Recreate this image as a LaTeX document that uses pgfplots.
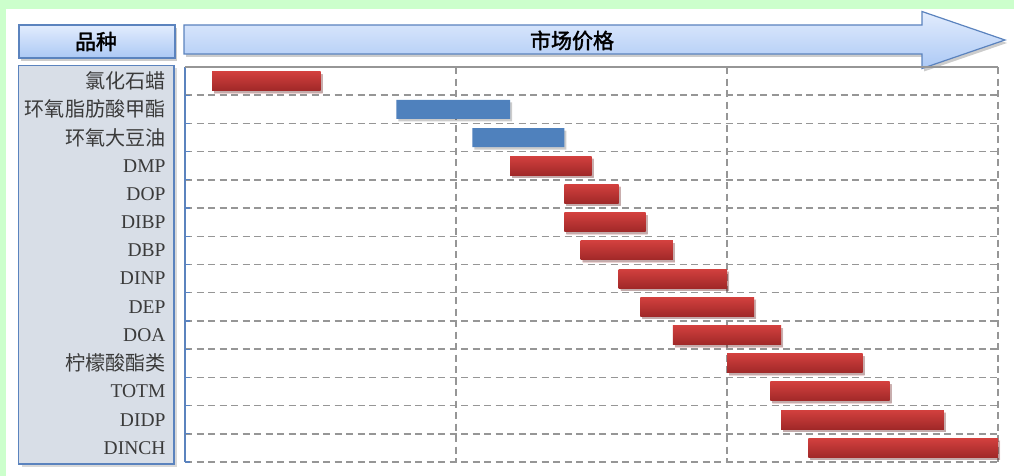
\documentclass[border=0pt]{standalone}
\usepackage{fontspec}
\setmainfont{Liberation Serif}
\newfontfamily\cjk[Scale=1.03]{Noto Sans CJK SC}
\newfontfamily\cjkb[FakeBold=2]{Noto Sans CJK SC}
\usepackage{pgfplots}
\usepackage{pgfplotstable}
\pgfplotsset{compat=1.18}
\usetikzlibrary{shadows}

\definecolor{bggreen}{RGB}{204,255,204}
\definecolor{panelfill}{RGB}{216,222,231}
\definecolor{panelline}{RGB}{91,131,190}
\definecolor{hdrtop}{RGB}{226,236,253}
\definecolor{hdrbot}{RGB}{172,201,245}
\definecolor{barblue}{RGB}{79,129,189}
\definecolor{redtop}{RGB}{210,64,62}
\definecolor{redbot}{RGB}{160,40,40}
\definecolor{gridgray}{RGB}{150,150,150}
\definecolor{labeltext}{RGB}{58,58,58}

% row  start  length   (x unit = one vertical grid interval)
\pgfplotstableread{
row start len
1  0.10 0.40
4  1.20 0.30
5  1.40 0.20
6  1.40 0.30
7  1.46 0.34
8  1.60 0.40
9  1.68 0.42
10 1.80 0.40
11 2.00 0.50
12 2.16 0.44
13 2.20 0.60
14 2.30 0.70
}\redbars
\pgfplotstableread{
row start len
2  0.78 0.42
3  1.06 0.34
}\bluebars

\pgfplotsset{
  base/.style={
    at={(185pt,-462pt)}, anchor=south west,
    scale only axis, width=813pt, height=395pt,
    xmin=0, xmax=3, ymin=0.5, ymax=14.5, y dir=reverse,
    xbar stacked, bar width=19pt, clip=false,
  },
  barshadow/.style={drop shadow={shadow xshift=2pt, shadow yshift=-2.5pt, fill=black, opacity=0.2}},
}

\begin{document}
\begin{tikzpicture}[x=1pt,y=1pt]
\useasboundingbox (0,0) rectangle (1014,-476);
\fill[bggreen] (0,0) rectangle (1014,-476);
\fill[white] (6,-9) rectangle (1014,-476);

% left category panel
\draw[panelline, line width=1.5pt, fill=panelfill,
      drop shadow={shadow xshift=3pt, shadow yshift=-3pt, fill=black, opacity=0.15}]
  (18.5,-65.5) rectangle (174,-464);

% header box
\draw[panelline, line width=1.5pt, top color=hdrtop, bottom color=hdrbot,
      drop shadow={shadow xshift=2pt, shadow yshift=-3pt, fill=black, opacity=0.2}]
  (19,-25) rectangle (175,-58);
\node[font=\cjkb\fontsize{21}{21}\selectfont, text=black] at (96,-41.5) {品种};

% arrow header
\draw[panelline, line width=1.2pt, top color=hdrtop, bottom color=hdrbot, line join=miter,
      drop shadow={shadow xshift=2pt, shadow yshift=-3pt, fill=black, opacity=0.2}]
  (184,-25) -- (922,-25) -- (922,-11.5) -- (1005,-40) -- (922,-68.5) -- (922,-54) -- (184,-54) -- cycle;
\node[font=\cjkb\fontsize{21}{21}\selectfont, text=black] at (572,-40.5) {市场价格};

\begin{axis}[base,
  xtick={1,2,3}, xticklabels={}, xmajorgrids,
  ytick={1,...,14},
  yticklabels={{\cjk 氯化石蜡},{\cjk 环氧脂肪酸甲酯},{\cjk 环氧大豆油},DMP,DOP,DIBP,DBP,DINP,DEP,DOA,{\cjk 柠檬酸酯类},TOTM,DIDP,DINCH},
  minor ytick={1.5,2.5,...,14.5}, yminorgrids,
  major grid style={gridgray, line width=1.5pt, dash pattern=on 7pt off 4.5pt},
  minor grid style={gridgray, line width=1.5pt, dash pattern=on 7pt off 4.5pt},
  axis line style={draw=none},
  major tick style={draw=none},
  minor tick style={draw=panelline, line width=1.2pt},
  minor tick length=5pt, tick align=inside, ytick pos=left,
  yticklabel style={font=\fontsize{19.5}{20}\selectfont, text=labeltext, xshift=-16pt},
]
\draw[gridgray, line width=1.5pt] (axis cs:0,0.5) -- (axis cs:3,0.5);
\draw[panelline, line width=1.5pt] (axis cs:0,0.5) -- (axis cs:0,14.5);
\end{axis}

% red bars: one axis per bar so that each bar gets its own gradient
\foreach \i in {0,...,11} {
  \begin{axis}[base, hide axis]
  \addplot[draw=none, fill=none, restrict expr to domain={\coordindex}{\i:\i}]
    table[x=start, y=row] {\redbars};
  \addplot[draw=none, top color=redtop, bottom color=redbot, barshadow,
           restrict expr to domain={\coordindex}{\i:\i}]
    table[x=len, y=row] {\redbars};
  \end{axis}
}

\begin{axis}[base, hide axis]
\addplot[draw=none, fill=none] table[x=start, y=row] {\bluebars};
\addplot[draw=none, fill=barblue, barshadow] table[x=len, y=row] {\bluebars};
\end{axis}
\end{tikzpicture}
\end{document}
